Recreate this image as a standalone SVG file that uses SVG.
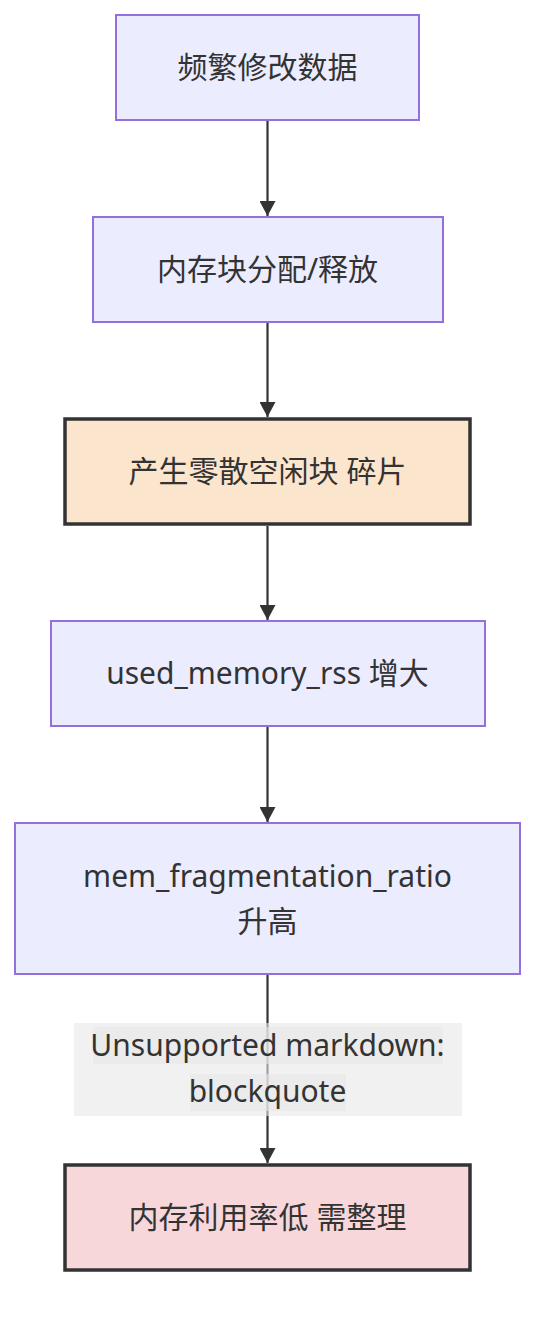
<svg xmlns="http://www.w3.org/2000/svg" width="552" height="1324" viewBox="0 0 552 1324">
<defs>
<marker id="arr" viewBox="0 0 10 10" refX="10" refY="5" markerWidth="15" markerHeight="16" markerUnits="userSpaceOnUse" orient="auto" preserveAspectRatio="none">
<path d="M0,0 L10,5 L0,10 z" fill="#333"/>
</marker>
<style>
.n{fill:#ECECFF;stroke:#9370DB;stroke-width:2}
.w{stroke:#333;stroke-width:3.5}
.t{font-family:"Noto Sans","Noto Sans CJK SC",sans-serif;font-size:30px;fill:#333;text-anchor:middle}
.e{stroke:#333;stroke-width:2.2;fill:none}
</style>
</defs>
<rect width="552" height="1324" fill="#fff"/>
<g id="connectors">
<line class="e" x1="267.5" y1="121" x2="267.5" y2="216" marker-end="url(#arr)"/>
<line class="e" x1="267.5" y1="323" x2="267.5" y2="417" marker-end="url(#arr)"/>
<line class="e" x1="267.5" y1="526" x2="267.5" y2="620" marker-end="url(#arr)"/>
<line class="e" x1="267.5" y1="727" x2="267.5" y2="822" marker-end="url(#arr)"/>
<line class="e" x1="267.5" y1="975" x2="267.5" y2="1163" marker-end="url(#arr)"/>
<g id="edge-label">
<rect x="74" y="1023" width="388" height="93" fill="#e8e8e8" fill-opacity="0.6"/>
<rect x="93" y="1027" width="350" height="37" fill="#e8e8e8" fill-opacity="0.6"/>
<rect x="190" y="1074" width="156" height="37" fill="#e8e8e8" fill-opacity="0.6"/>
<text class="t" x="267.5" y="1056">Unsupported markdown: </text>
<text class="t" x="267.5" y="1102">blockquote</text>
</g>
</g>
<g id="n1"><rect class="n" x="116" y="15" width="303" height="105"/><text class="t" x="267.5" y="78">频繁修改数据</text></g>
<g id="n2"><rect class="n" x="93" y="217" width="350" height="105"/><text class="t" x="267.5" y="280">内存块分配/释放</text></g>
<g id="n3"><rect class="w" fill="#FCE5CD" x="65" y="419" width="405" height="105"/><text class="t" x="267.5" y="482">产生零散空闲块 碎片</text></g>
<g id="n4"><rect class="n" x="51" y="621" width="434" height="105"/><text class="t" x="267.5" y="684">used_memory_rss 增大</text></g>
<g id="n5"><rect class="n" x="15" y="823" width="505" height="151"/><text class="t" x="267.5" y="887">mem_fragmentation_ratio</text><text class="t" x="267.5" y="932">升高</text></g>
<g id="n6"><rect class="w" fill="#F8D7DA" x="65" y="1165" width="405" height="105"/><text class="t" x="267.5" y="1228">内存利用率低 需整理</text></g>
</svg>
